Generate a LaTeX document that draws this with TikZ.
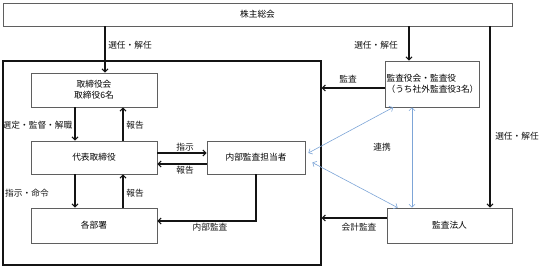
\documentclass[tikz,border=0pt]{standalone}
\usepackage{fontspec}
\setmainfont{Noto Sans CJK JP}
\usetikzlibrary{arrows.meta}
\definecolor{myframe}{RGB}{95,95,95}
\definecolor{mydark}{RGB}{20,20,20}
\definecolor{myblue}{RGB}{125,165,215}
\newcommand{\jpfont}{\fontsize{8.7}{10.6}\selectfont}
\tikzset{
  block/.style={rectangle, draw=myframe, fill=white, line width=0.7pt,
    font=\jpfont, align=center, inner sep=1pt},
  companybox/.style={rectangle, draw=mydark, line width=1.2pt,
    minimum width=318pt, minimum height=204pt},
  arrow/.style={-{Straight Barb[length=3pt,width=6pt]}, line width=1.1pt, color=mydark},
  bluearrow/.style={{Straight Barb[length=3pt,width=6pt]}-{Straight Barb[length=3pt,width=6pt]},
    line width=0.6pt, color=myblue},
  lbl/.style={font=\jpfont, inner sep=0pt, text=mydark}
}

\begin{document}
\begin{tikzpicture}[x=1pt, y=-1pt]
  \useasboundingbox (0,0) rectangle (540,272);
  % boxes
  \node[companybox] (company) at (162,163) {};
  \node[block, minimum width=509pt, minimum height=23pt] (soukai) at (257.5,14.5) {株主総会};
  \node[block, minimum width=126pt, minimum height=34pt] (torishimari) at (94,90) {取締役会\\取締役6名};
  \node[block, minimum width=126pt, minimum height=33pt] (daihyo) at (94,157.5) {代表取締役};
  \node[block, minimum width=126pt, minimum height=35pt] (bumon) at (94,225.5) {各部署};
  \node[block, minimum width=98pt, minimum height=33pt] (naibu) at (256,157.5) {内部監査担当者};
  \node[block, minimum width=91pt, minimum height=46pt, align=left] (kansa) at (432.5,84) {監査役会・監査役\\（うち社外監査役3名）};
  \node[block, minimum width=125pt, minimum height=35pt] (houjin) at (449.5,225.5) {監査法人};

  % arrows from the general meeting
  \draw[arrow] ([xshift=11pt]torishimari.north |- soukai.south) -- ([xshift=11pt]torishimari.north);
  \draw[arrow] ([xshift=-23.5pt]kansa.north |- soukai.south) -- ([xshift=-23.5pt]kansa.north);
  \draw[arrow] ([xshift=40.5pt]houjin.north |- soukai.south) -- ([xshift=40.5pt]houjin.north);
  \node[lbl] (l1) at (130,45) {選任・解任};
  \node[lbl] (l2) at (376,45) {選任・解任};
  \node[lbl] (l3) at (517,136) {選任・解任};

  % inside the company
  \draw[arrow] ([xshift=-19pt]torishimari.south) -- ([xshift=-19pt]daihyo.north);
  \draw[arrow] ([xshift=29pt]daihyo.north) -- ([xshift=29pt]torishimari.south);
  \node[lbl] (l4) at (37.5,125) {選定・監督・解職};
  \node[lbl] (l5) at (135,125) {報告};
  \draw[arrow] ([xshift=-19pt]daihyo.south) -- ([xshift=-19pt]bumon.north);
  \draw[arrow] ([xshift=29pt]bumon.north) -- ([xshift=29pt]daihyo.south);
  \node[lbl] (l6) at (27,193) {指示・命令};
  \node[lbl] (l7) at (135,193) {報告};
  \draw[arrow] ([yshift=4.5pt]daihyo.east) -- ([yshift=4.5pt]naibu.west);
  \draw[arrow] ([yshift=-6.5pt]naibu.west) -- ([yshift=-6.5pt]daihyo.east);
  \node[lbl] (l8) at (185,147) {指示};
  \node[lbl] (l9) at (185,170) {報告};
  \draw[arrow] (naibu.south) |- ([yshift=4.5pt]bumon.east);
  \node[lbl] (l10) at (210,227) {内部監査};

  % audit
  \draw[arrow] ([yshift=-4pt]kansa.west) -- ([yshift=-4pt]kansa.west -| company.east);
  \node[lbl] (l11) at (348,79) {監査};
  \draw[arrow] ([yshift=7.5pt]houjin.west) -- ([yshift=7.5pt]houjin.west -| company.east);
  \node[lbl] (l12) at (359,227) {会計監査};

  % cooperation
  \draw[bluearrow] ([xshift=8pt]kansa.south west) -- ([shift={(3pt,4.5pt)}]naibu.east);
  \draw[bluearrow] ([shift={(7pt,-5pt)}]naibu.east) -- ([xshift=11pt]houjin.north west);
  \draw[bluearrow] ([xshift=-20.5pt]kansa.south) -- ([xshift=-20.5pt]kansa.south |- houjin.north);
  \node[lbl] (l13) at (382,147) {連携};
\end{tikzpicture}
\end{document}
